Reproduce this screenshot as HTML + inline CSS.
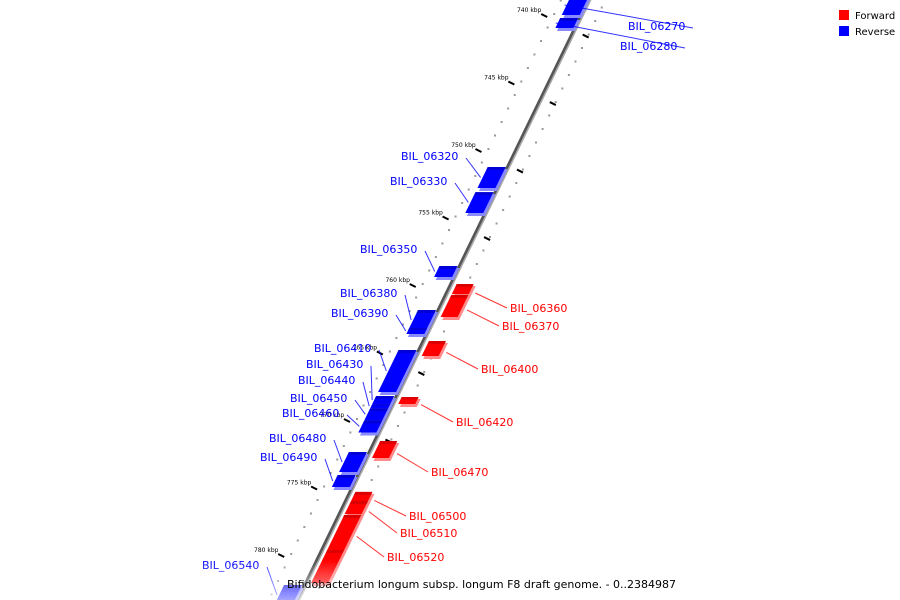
<!DOCTYPE html>
<html><head><meta charset="utf-8"><style>
body{margin:0;background:#fff;}
svg{display:block;font-family:"DejaVu Sans","Liberation Sans",sans-serif;}
</style></head><body>
<svg id="chart" width="900" height="600" viewBox="0 0 900 600">
<defs>
<linearGradient id="fade" x1="0" y1="0" x2="0" y2="1"><stop offset="0" stop-color="#fff" stop-opacity="0"/><stop offset="1" stop-color="#fff" stop-opacity="0.65"/></linearGradient>
</defs>
<g id="ticks"></g>
<line x1="590" y1="-2" x2="297" y2="602" stroke="#555" stroke-width="4"/>
<line x1="591.5" y1="-2" x2="298.5" y2="602" stroke="#aaa" stroke-width="1.5"/>
<g id="genes"></g>
<g id="labels"></g>
<rect x="0" y="560" width="900" height="40" fill="url(#fade)"/>
<text x="287" y="588" font-size="11" fill="#000">Bifidobacterium longum subsp. longum F8 draft genome. - 0..2384987</text>
<g>
<rect x="839" y="10" width="10" height="10" fill="#f00"/>
<text x="855" y="19" font-size="10">Forward</text>
<rect x="839" y="26" width="10" height="10" fill="#00f"/>
<text x="855" y="35" font-size="10">Reverse</text>
</g>
</svg>
<script>
const geneNames = ["BIL_06270","BIL_06280","BIL_06320","BIL_06330","BIL_06350","BIL_06360","BIL_06370","BIL_06380","BIL_06390","BIL_06400","BIL_06410","BIL_06420","BIL_06430","BIL_06440","BIL_06450","BIL_06460","BIL_06470","BIL_06480","BIL_06490","BIL_06500","BIL_06510","BIL_06520","","BIL_06540"];
const geneStarts = [738.6,740.3,751.33,753.19,758.67,760.0,760.81,761.93,763.26,764.22,764.89,768.37,768.3,768.9,769.2,770.1,771.63,772.44,774.15,775.4,776.07,777.1,779.7,782.3];
const geneEnds = [740.07,741.04,752.89,754.74,759.48,760.74,762.44,763.41,763.7,765.33,768.0,768.89,768.9,769.2,770.1,771.0,772.89,773.93,775.04,776.07,777.04,779.7,782.15,783.8];
const geneStrands = ["-","-","-","-","-","+","+","-","-","+","-","+","-","-","-","-","+","-","-","+","+","+","+","-"];
const majorTickLabels = ["740 kbp","745 kbp","750 kbp","755 kbp","760 kbp","765 kbp","770 kbp","775 kbp","780 kbp"];
const majorTickValues = [740,745,750,755,760,765,770,775,780];
// layout: label anchor positions (pixels)
const labelPos = [[628,26],[620,46],[401,156],[390,181],[360,249],[510,308],[502,326],[340,293],[331,313],[481,369],[314,348],[456,422],[306,364],[298,380],[290,398],[282,413],[431,472],[269,438],[260,457],[409,516],[400,533],[387,557],null,[202,565]];
const NS="http://www.w3.org/2000/svg";
function yOf(k){return 14+(k-740)*13.5;}
function xl(y){return 590-0.487*y;}
function mk(tag,attrs,parent){const e=document.createElementNS(NS,tag);for(const a in attrs)e.setAttribute(a,attrs[a]);parent.appendChild(e);return e;}
const tg=document.getElementById('ticks');
for(let k=738;k<=785;k++){
  const y=yOf(k);
  const d1=mk('rect',{x:xl(y)-30,y:y-1,width:2,height:2,fill:'#999'},tg);
  
  
  const d2=mk('rect',{x:xl(y)+11,y:y-1+7,width:2,height:2,fill:'#999'},tg);
  
  
}
majorTickValues.forEach((k,i)=>{
  const y=yOf(k)+2;
  const t=mk('line',{x1:xl(y)-41,y1:y-2,x2:xl(y)-35,y2:y+1,stroke:'#000','stroke-width':2},tg);
  
  
  const lb=mk('text',{x:xl(y)-53,y:y-4,'font-size':6,'text-anchor':'middle',fill:'#000'},tg);
  lb.textContent=majorTickLabels[i];
  
  
  const y2=yOf(k+1.3)+4;
  const t2=mk('line',{x1:xl(y2)+10,y1:y2-1,x2:xl(y2)+16,y2:y2+2,stroke:'#000','stroke-width':2},tg);
  
  
});
const gg=document.getElementById('genes'),lg=document.getElementById('labels');
geneNames.forEach((n,i)=>{
  const y1=yOf(geneStarts[i]),y2=yOf(geneEnds[i]);
  const fwd=geneStrands[i]==='+';
  const h1=fwd?5:-21,h2=fwd?22:-3;
  const main=fwd?'#f00':'#00f', light=fwd?'#ff8a8a':'#8a8aff', dark=fwd?'#b00':'#0000b0';
  const P=(y,h)=>(xl(y)+h)+','+y;
  const g=mk('g',{},gg);
  
  
  mk('polygon',{points:[P(y1+2,h1+3),P(y1+2,h2+3),P(y2+3,h2+3),P(y2+3,h1+3)].join(' '),fill:light},g);
  mk('polygon',{points:[P(y1,h1),P(y1,h2),P(y2,h2),P(y2,h1)].join(' '),fill:main},g);
  mk('polygon',{points:[P(y1,h1),P(y1,h2),P(y1+Math.min(3,(y2-y1)/3),h2),P(y1+Math.min(3,(y2-y1)/3),h1)].join(' '),fill:dark,opacity:0.5},g);
  const lp=labelPos[i];
  if(lp&&n){
    const ym=(y1+y2)/2;
    const col=fwd?'#f00':'#00f';
    const ln=fwd?mk('line',{x1:xl(ym)+h2+4,y1:ym+4,x2:lp[0]-3,y2:lp[1],stroke:col,'stroke-width':1,opacity:0.8},lg)
               :mk('line',{x1:lp[0]+65,y1:lp[1]+2,x2:xl(ym)+h1-2,y2:ym,stroke:col,'stroke-width':1,opacity:0.8},lg);
    
    
    const t=mk('text',{x:lp[0],y:lp[1]+4,'font-size':11,fill:col},lg);
    t.textContent=n;
    
    
  }
});
</script>
</body></html>
